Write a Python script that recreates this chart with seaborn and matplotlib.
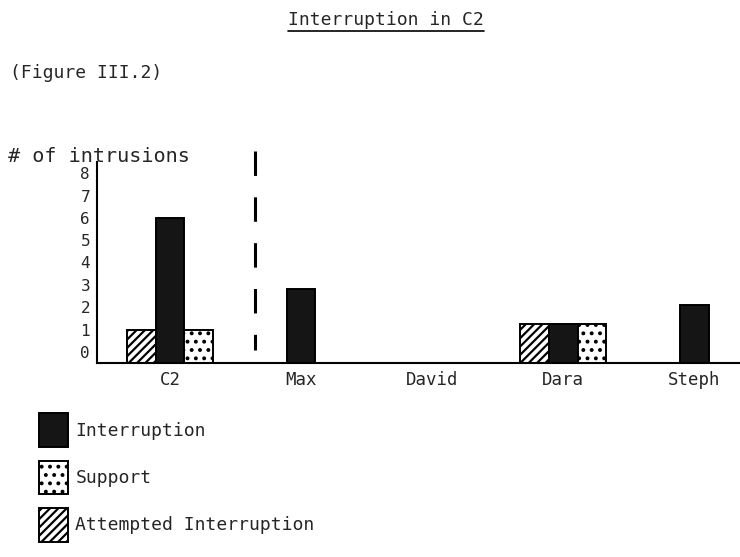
import matplotlib
matplotlib.use("Agg")
import matplotlib.pyplot as plt
import seaborn as sns
import pandas as pd
from matplotlib.patches import Patch
from matplotlib.lines import Line2D

# ---- data ----
speakers = ["C2", "Max", "David", "Dara", "Steph"]
attempted = [1, 0, 0, 1.25, 0]
interruption = [6, 2.8, 0, 1.25, 2.1]
support = [1, 0, 0, 1.25, 0]
series_names = ["Attempted Interruption", "Interruption", "Support"]
y_ticks = [0, 1, 2, 3, 4, 5, 6, 7, 8]

rows = []
for name, vals in zip(series_names, [attempted, interruption, support]):
    for sp, v in zip(speakers, vals):
        rows.append({"speaker": sp, "type": name, "count": v})
df = pd.DataFrame(rows)

sns.set_theme(style="white")
plt.rcParams["font.family"] = ["DejaVu Sans Mono", "DejaVu Sans"]
plt.rcParams["hatch.linewidth"] = 1.6
plt.rcParams["hatch.color"] = "black"

fig = plt.figure(figsize=(7.40, 5.57), dpi=100)
ax = fig.add_axes([97 / 740, 1 - 363 / 557, 1 - 97 / 740, (363 - 162) / 557])

sns.barplot(data=df, x="speaker", y="count", hue="type", order=speakers,
            hue_order=series_names, width=0.66, ax=ax, legend=False,
            edgecolor="black", linewidth=1.4, saturation=1)

styles = {
    "Attempted Interruption": dict(facecolor="white", hatch="////"),
    "Interruption": dict(facecolor="#151515", hatch=None),
    "Support": dict(facecolor="white", hatch=".."),
}
ylo = -0.5
for cont, name in zip(ax.containers, series_names):
    for p in cont.patches:
        p.set_facecolor(styles[name]["facecolor"])
        if styles[name]["hatch"]:
            p.set_hatch(styles[name]["hatch"])
        h = p.get_height()
        # hand-drawn baseline sits half a unit below the "0" label
        p.set_y(ylo)
        p.set_height(h - ylo if h > 0 else 0)

ax.set_ylim(ylo, 8.5)
ax.set_xlim(-0.557, 4.35)
ax.set_yticks(y_ticks)
ax.set_yticklabels([str(t) for t in y_ticks], fontsize=11.5)
ax.tick_params(axis="both", length=0)
ax.tick_params(axis="y", pad=5)
ax.tick_params(axis="x", pad=6, labelsize=12.5)
ax.set_xlabel("")
ax.set_ylabel("")
for s in ["top", "right"]:
    ax.spines[s].set_visible(False)
for s in ["left", "bottom"]:
    ax.spines[s].set_color("black")
    ax.spines[s].set_linewidth(1.5)

# divider between C2 and the individuals
ax.plot([0.65, 0.65], [9.0, 0.1], color="black", lw=2.2, dashes=(8, 7),
        clip_on=False)

# texts
title = fig.text(386 / 740, 1 - 20 / 557, "Interruption in C2", ha="center",
                 va="center", fontsize=13)
fig.text(10 / 740, 1 - 73 / 557, "(Figure III.2)", ha="left", va="center",
         fontsize=13)
fig.text(8 / 740, 1 - 156 / 557, "# of intrusions", ha="left", va="center",
         fontsize=14.5)

fig.canvas.draw()
bb = title.get_window_extent().transformed(fig.transFigure.inverted())
fig.add_artist(Line2D([bb.x0, bb.x1], [bb.y0 - 0.004, bb.y0 - 0.004],
                      transform=fig.transFigure, color="black", lw=1.2))

handles = [Patch(facecolor=styles[n]["facecolor"], hatch=styles[n]["hatch"],
                 edgecolor="black", linewidth=1.4)
           for n in ["Interruption", "Support", "Attempted Interruption"]]
fig.legend(handles, ["Interruption", "Support", "Attempted Interruption"],
           loc="upper left", bbox_to_anchor=(32 / 740, 1 - 406 / 557),
           frameon=False, handlelength=1.6, handleheight=2.5,
           labelspacing=0.75, handletextpad=0.4, fontsize=13,
           borderaxespad=0)

fig.savefig("out.png", dpi=100, facecolor="white")
